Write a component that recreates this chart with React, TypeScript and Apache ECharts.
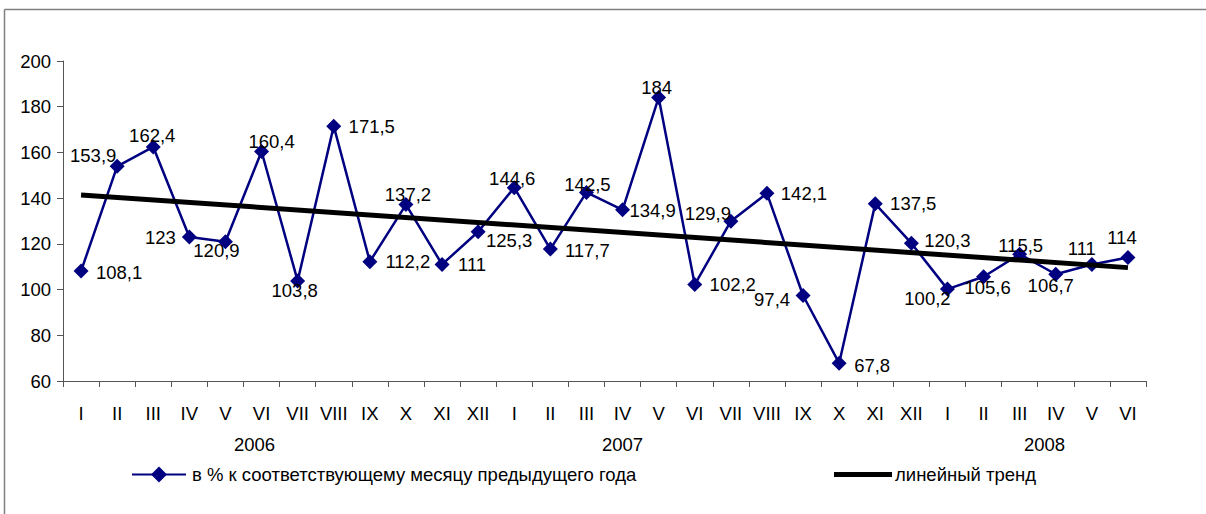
import React, { useEffect, useRef } from "react";
import * as echarts from "echarts";

const months = [
  "I","II","III","IV","V","VI","VII","VIII","IX","X","XI","XII",
  "I","II","III","IV","V","VI","VII","VIII","IX","X","XI","XII",
  "I","II","III","IV","V","VI",
];
const years = ["2006", "2007", "2008"];
const values = [
  108.1, 153.9, 162.4, 123, 120.9, 160.4, 103.8, 171.5, 112.2, 137.2, 111, 125.3,
  144.6, 117.7, 142.5, 134.9, 184, 102.2, 129.9, 142.1, 97.4, 67.8, 137.5, 120.3,
  100.2, 105.6, 115.5, 106.7, 111, 114,
];
const trendStart = 141.4;
const trendEnd = 109.6;
const seriesName = "в % к соответствующему месяцу предыдущего года";
const trendName = "линейный тренд";

// label offsets relative to each point (style only)
const labelOffsets: [number, number][] = [
  [38, 1], [-24, -11], [-1, -11], [-29, 0], [-9, 9], [10, -10], [-3, 10], [38, 0], [38, 0], [2, -10],
  [30, 0], [31, 9], [-2, -9], [37, 1], [1, -8], [30, 1], [-2, -10], [38, 0], [-23, -8], [37, 0],
  [-31, 4], [33, 2], [38, 0], [36, -3], [-20, 9], [4, 11], [1, -9], [-5, 11], [-10, -16], [-6, -20],
];

const FONT = "'Liberation Sans', Arial, sans-serif";
const FS = 18.5;

export default function App() {
  const ref = useRef<HTMLDivElement>(null);
  useEffect(() => {
    if (!ref.current) return;
    const chart = echarts.init(ref.current, undefined, { renderer: "svg" });
    const fmt = (v: number) => String(v).replace(".", ",");
    chart.setOption({
      animation: false,
      backgroundColor: "#ffffff",
      textStyle: { fontFamily: FONT, fontSize: FS, color: "#000" },
      grid: { left: 63, right: 60, top: 61, bottom: 133, containLabel: false },
      xAxis: {
        type: "category",
        data: months,
        boundaryGap: true,
        axisLine: { lineStyle: { color: "#555", width: 1 } },
        axisTick: { show: true, length: 6, lineStyle: { color: "#555" }, interval: 0 },
        axisLabel: { interval: 0, margin: 23, color: "#000", fontFamily: FONT, fontSize: FS },
        splitLine: { show: false },
      },
      yAxis: {
        type: "value",
        min: 60,
        max: 200,
        interval: 20,
        axisLine: { show: true, lineStyle: { color: "#555", width: 1 } },
        axisTick: { show: true, length: 6, lineStyle: { color: "#555" } },
        axisLabel: { margin: 12, color: "#000", fontFamily: FONT, fontSize: FS },
        splitLine: { show: false },
      },
      legend: [
        {
          left: 131,
          top: 465,
          padding: 0,
          data: [{ name: seriesName }],
          itemWidth: 54,
          itemHeight: 20,
          textStyle: { fontFamily: FONT, fontSize: FS, color: "#000", padding: [0, 0, 0, 1] },
        },
        {
          left: 834,
          top: 465,
          padding: 0,
          data: [{ name: trendName, icon: "rect" }],
          itemWidth: 58,
          itemHeight: 5,
          itemStyle: { color: "#000" },
          textStyle: { fontFamily: FONT, fontSize: FS, color: "#000", padding: [0, 0, 0, -2] },
        },
      ],
      graphic: [
        { type: "line", shape: { x1: 4.5, y1: 9.5, x2: 1206, y2: 9.5 }, style: { stroke: "#808080", lineWidth: 1.5 } },
        { type: "line", shape: { x1: 4.5, y1: 9.5, x2: 4.5, y2: 514 }, style: { stroke: "#808080", lineWidth: 1.5 } },
        { type: "text", left: 234, top: 435, style: { text: years[0], fontFamily: FONT, fontSize: FS, fill: "#000" } },
        { type: "text", left: 602, top: 435, style: { text: years[1], fontFamily: FONT, fontSize: FS, fill: "#000" } },
        { type: "text", left: 1024, top: 435, style: { text: years[2], fontFamily: FONT, fontSize: FS, fill: "#000" } },
      ],
      series: [
        {
          name: trendName,
          type: "line",
          data: [[0, trendStart], [months.length - 1, trendEnd]],
          symbol: "none",
          lineStyle: { color: "#000", width: 5, cap: "butt" },
          itemStyle: { color: "#000" },
          z: 3,
        },
        {
          name: seriesName,
          type: "line",
          data: values.map((v, i) => ({
            value: v,
            label: { offset: labelOffsets[i] },
          })),
          symbol: "diamond",
          symbolSize: 15,
          lineStyle: { color: "#000080", width: 2.5 },
          itemStyle: { color: "#000080" },
          label: {
            show: true,
            position: "inside",
            align: "center",
            verticalAlign: "middle",
            formatter: (p: any) => fmt(p.value),
            fontFamily: FONT,
            fontSize: FS,
            color: "#000",
          },
          z: 2,
        },
      ],
    });
    return () => chart.dispose();
  }, []);
  return (
    <div
      ref={ref}
      style={{ position: "fixed", left: 0, top: 0, width: 1206, height: 514, background: "#fff" }}
    />
  );
}
